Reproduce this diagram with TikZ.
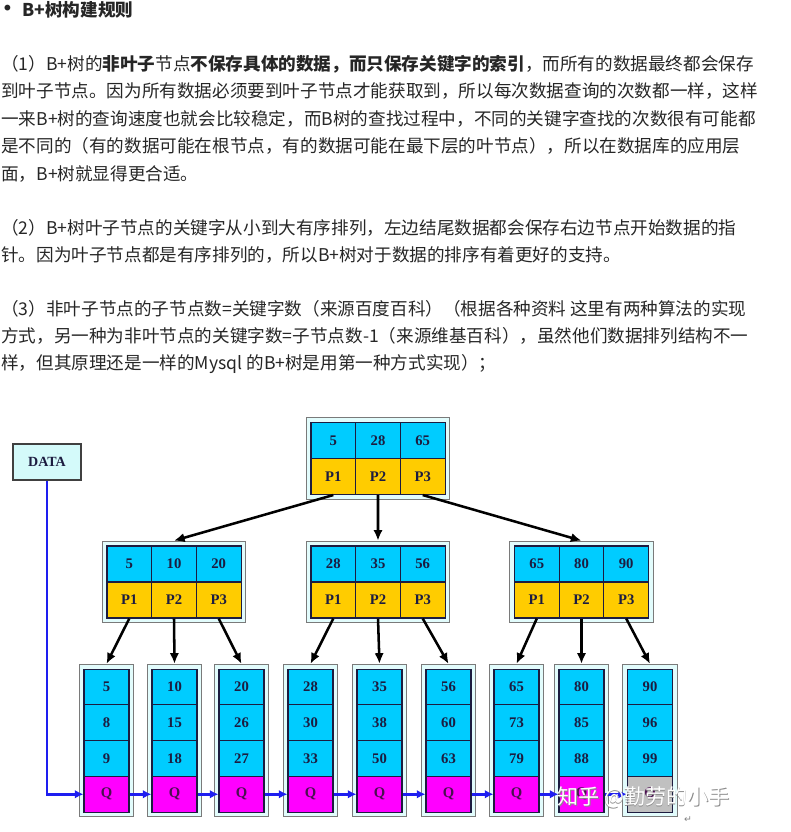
\documentclass[tikz,border=0pt]{standalone}
\usepackage{fontspec}
\setmainfont{Liberation Serif}
\newfontfamily\cjk{Noto Sans CJK SC}
\newfontfamily\symfont{DejaVu Sans}
\usetikzlibrary{arrows.meta,fit,backgrounds}
\definecolor{txink}{HTML}{262626}
\definecolor{cellink}{HTML}{1C1C40}
\definecolor{qink}{HTML}{4A1050}
\definecolor{keyblue}{HTML}{00CCFF}
\definecolor{ptryellow}{HTML}{FFCC00}
\definecolor{qmag}{HTML}{FF00FF}
\definecolor{qgray}{HTML}{C0C0C0}
\definecolor{framecyan}{HTML}{E2FCFC}
\definecolor{framegray}{HTML}{7A7A7A}
\definecolor{datacyan}{HTML}{D4FAFA}
\definecolor{linkblue}{HTML}{1E1EF0}

\begin{document}
\begin{tikzpicture}[x=0.75pt, y=-0.75pt,
    textline/.style={anchor=base west, inner sep=0pt, font=\cjk\fontsize{13.2}{16}\selectfont, text=txink},
    cell/.style={draw=cellink, line width=0.8pt, inner sep=0pt, minimum width=33.5pt, minimum height=27pt,
      font=\bfseries\fontsize{11}{13}\selectfont, text=cellink},
    keycell/.style={cell, fill=keyblue},
    ptrcell/.style={cell, fill=ptryellow},
    leafcell/.style={cell, fill=keyblue, minimum width=33.75pt, minimum height=26.8pt},
    nodeframe/.style={draw=framegray, fill=framecyan, line width=0.8pt, inner sep=3.2pt},
    datanode/.style={draw=black!75, fill=datacyan, line width=1pt, minimum width=51pt, minimum height=27pt,
      inner sep=0pt, font=\bfseries\fontsize{10.5}{12}\selectfont, text=cellink},
    childarrow/.style={draw=black, line width=1.9pt, -{Latex[length=8pt, width=7pt]}},
    leaflink/.style={draw=linkblue, line width=2.2pt, -{Latex[length=6.5pt, width=6.5pt]}},
  ]
  \useasboundingbox (0,0) rectangle (790,832);

  % text above the tree
  \node[anchor=center, inner sep=0pt, font=\symfont\fontsize{15}{16}\selectfont, text=txink] (bullet) at (7.5,10) {•};
  \node[textline, font=\cjk\bfseries\fontsize{13.2}{16}\selectfont] (title) at (22,16.5) {B+树构建规则};

  \node[textline] (p1a) at (1,70) {（1）B+树的\textbf{非叶子}节点\textbf{不保存具体的数据，而只保存关键字的索引}，而所有的数据最终都会保存};
  \node[textline] (p1b) at (1,97.5) {到叶子节点。因为所有数据必须要到叶子节点才能获取到，所以每次数据查询的次数都一样，这样};
  \node[textline] (p1c) at (1,125) {一来B+树的查询速度也就会比较稳定，而B树的查找过程中，不同的关键字查找的次数很有可能都};
  \node[textline] (p1d) at (1,152.5) {是不同的（有的数据可能在根节点，有的数据可能在最下层的叶节点），所以在数据库的应用层};
  \node[textline] (p1e) at (1,180) {面，B+树就显得更合适。};

  \node[textline] (p2a) at (1,234.5) {（2）B+树叶子节点的关键字从小到大有序排列，左边结尾数据都会保存右边节点开始数据的指};
  \node[textline] (p2b) at (1,261.5) {针。因为叶子节点都是有序排列的，所以B+树对于数据的排序有着更好的支持。};

  \node[textline] (p3a) at (1,315.5) {（3）非叶子节点的子节点数=关键字数（来源百度百科）（根据各种资料 这里有两种算法的实现};
  \node[textline] (p3b) at (1,342.5) {方式，另一种为非叶节点的关键字数=子节点数-1（来源维基百科），虽然他们数据排列结构不一};
  \node[textline] (p3c) at (1,369) {样，但其原理还是一样的Mysql 的B+树是用第一种方式实现）；};

  % root and second level: name / centre x / key row y / keys
  \foreach \nm/\cx/\cy/\ka/\kb/\kc in {r/378/440.5/5/28/65, a/174/564/5/10/20,
      b/378/564/28/35/56, c/581.5/564/65/80/90}{
    \node[keycell] (\nm k1) at (\cx-44.7,\cy) {\ka};
    \node[keycell] (\nm k2) at (\cx,\cy) {\kb};
    \node[keycell] (\nm k3) at (\cx+44.7,\cy) {\kc};
    \node[ptrcell] (\nm p1) at (\cx-44.7,\cy+36) {P1};
    \node[ptrcell] (\nm p2) at (\cx,\cy+36) {P2};
    \node[ptrcell] (\nm p3) at (\cx+44.7,\cy+36) {P3};
    \begin{scope}[on background layer]
      \node[nodeframe, fit=(\nm k1)(\nm p3)] (\nm) {};
    \end{scope}
  }

  % leaves: index / centre x / keys / fill of the Q cell
  \foreach \i/\cx/\ka/\kb/\kc/\qc in {1/106.5/5/8/9/qmag, 2/174.5/10/15/18/qmag, 3/241.5/20/26/27/qmag,
      4/310.5/28/30/33/qmag, 5/379.5/35/38/50/qmag, 6/448.5/56/60/63/qmag,
      7/516.5/65/73/79/qmag, 8/581.5/80/85/88/qmag, 9/650/90/96/99/qgray}{
    \node[leafcell] (l\i a) at (\cx,687) {\ka};
    \node[leafcell] (l\i b) at (\cx,722.75) {\kb};
    \node[leafcell] (l\i c) at (\cx,758.5) {\kc};
    \node[leafcell, fill=\qc, text=qink] (l\i q) at (\cx,794.25) {Q};
    \begin{scope}[on background layer]
      \node[nodeframe, fit=(l\i a)(l\i q)] (l\i) {};
    \end{scope}
  }

  % pointers down the tree
  \foreach \src/\dst in {rp1/a, rp2/b, rp3/c, ap1/l1, ap2/l2, ap3/l3,
      bp1/l4, bp2/l5, bp3/l6, cp1/l7, cp2/l8, cp3/l9}
    \draw[childarrow] (\src.south) -- (\dst.north);

  % data entry and the chain of leaves
  \node[datanode] (data) at (47,462) {DATA};
  \draw[leaflink] (data.south) |- (l1q.west);
  \foreach \a/\b in {1/2, 2/3, 3/4, 4/5, 5/6, 6/7, 7/8, 8/9}
    \draw[leaflink] (l\a q.east) -- (l\b q.west);

  % watermark
  \node[anchor=base west, inner sep=0pt, font=\cjk\fontsize{15.8}{18}\selectfont, text=black!45]
    (markshade) at (557.8,805.3) {知乎 @勤劳的小手};
  \node[anchor=base west, inner sep=0pt, font=\cjk\fontsize{15.8}{18}\selectfont, text=white]
    (mark) at (557,804.5) {知乎 @勤劳的小手};
  \node[inner sep=0pt, font=\symfont\fontsize{7}{8}\selectfont, text=black!50] (retmark) at (688,820) {↵};
\end{tikzpicture}
\end{document}
